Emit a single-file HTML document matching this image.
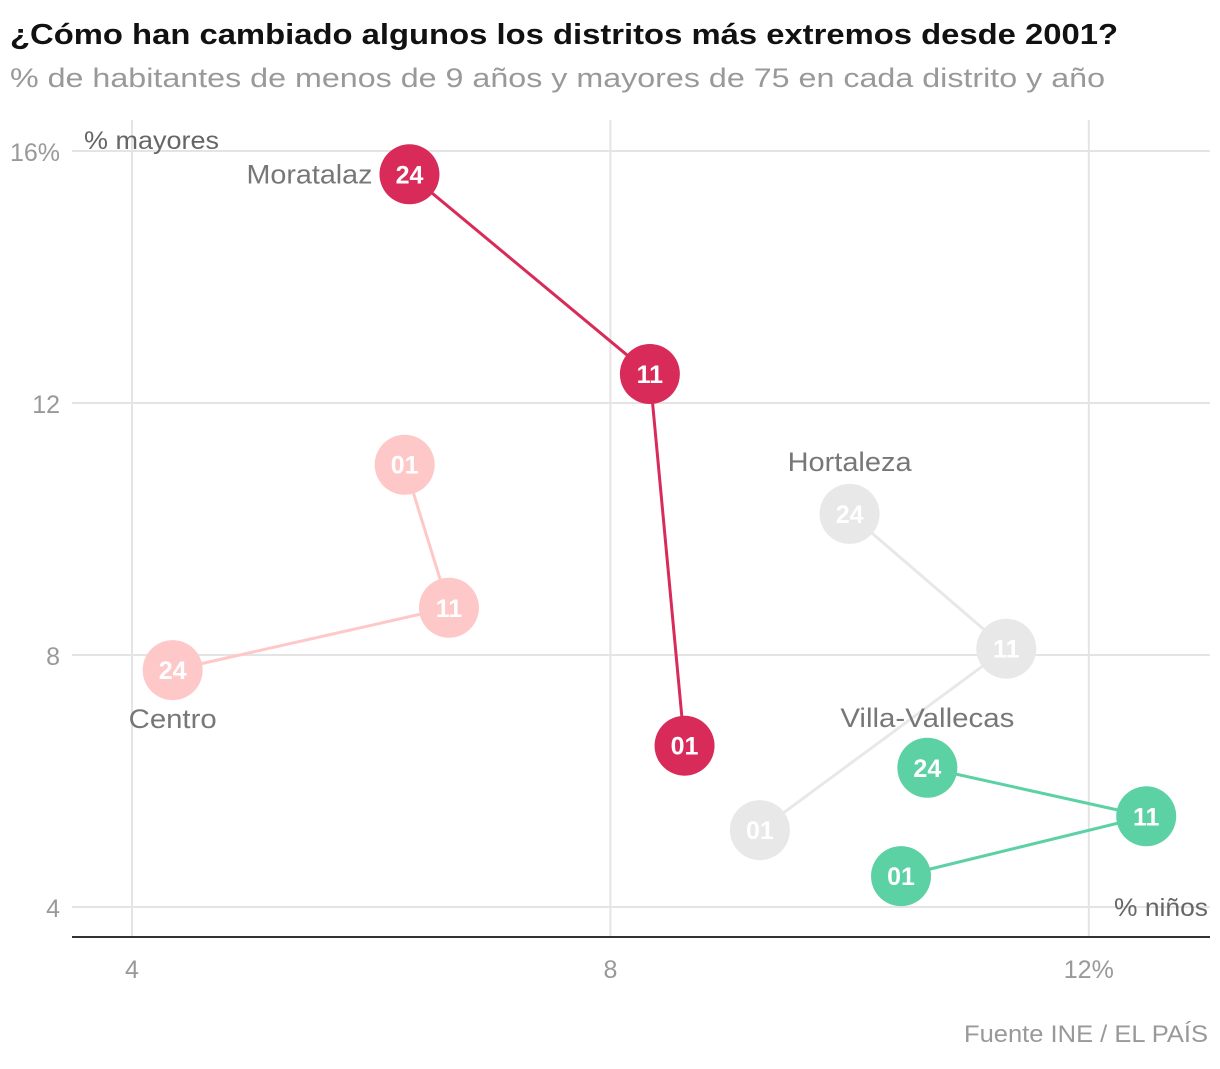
<!DOCTYPE html>
<html><head><meta charset="utf-8"><style>
body{margin:0;background:#fff;width:1220px;height:1064px;overflow:hidden;font-family:"Liberation Sans",sans-serif}
</style></head><body>
<svg id="chart" width="1220" height="1064">
<text x="10" y="44" font-size="29" font-weight="bold" fill="#111" textLength="1108" lengthAdjust="spacingAndGlyphs">¿Cómo han cambiado algunos los distritos más extremos desde 2001?</text>
<text x="10" y="87" font-size="27" fill="#999" textLength="1095" lengthAdjust="spacingAndGlyphs">% de habitantes de menos de 9 años y mayores de 75 en cada distrito y año</text>
<g id="grid"></g>
<g id="series"></g>
<text x="1208" y="1042" font-size="24" fill="#999" text-anchor="end" textLength="244" lengthAdjust="spacingAndGlyphs">Fuente INE / EL PAÍS</text>
</svg>
<script>
const xTicks=[4,8,12];
const yTicks=[4,8,12,16];
const districts=["Moratalaz","Centro","Hortaleza","Villa-Vallecas"];
const years=["01","11","24"];
const ninos=[[8.62,8.33,6.32],[6.28,6.65,4.34],[9.25,11.31,10.0],[10.43,12.48,10.65]];
const mayores=[[6.56,12.46,15.63],[11.02,8.75,7.76],[5.22,8.10,10.24],[4.49,5.44,6.21]];
const colors=["#d92b5a","#ffc8c8","#e8e8e8","#5bd1a4"];
const NS="http://www.w3.org/2000/svg";
const xs=v=>132+(v-4)*119.6, ys=v=>907-(v-4)*63;
function mk(t,a,p){const e=document.createElementNS(NS,t);for(const k in a)e.setAttribute(k,a[k]);p.appendChild(e);return e;}
const g=document.getElementById('grid'), s=document.getElementById('series');
xTicks.forEach((t,i)=>{
 const l=mk('line',{x1:xs(t),x2:xs(t),y1:120,y2:937,stroke:'#e4e4e4','stroke-width':2},g);
 
 
 const tx=mk('text',{x:xs(t),y:978,'font-size':25,fill:'#999','text-anchor':'middle'},g);
 tx.textContent=t+(i==xTicks.length-1?'%':'');
 
 
});
yTicks.forEach((t,i)=>{
 const l=mk('line',{x1:72,x2:1210,y1:ys(t),y2:ys(t),stroke:'#e4e4e4','stroke-width':2},g);
 
 
 const tx=mk('text',{x:60,y:ys(t)+10,'font-size':25,fill:'#999','text-anchor':'end'},g);
 tx.textContent=t+(i==yTicks.length-1?'%':'');
 
 
});
const ax=mk('line',{x1:72,x2:1210,y1:937,y2:937,stroke:'#333','stroke-width':2},g);


const yt=mk('text',{x:84,y:149,'font-size':25,fill:'#666',textLength:135,lengthAdjust:'spacingAndGlyphs'},g);yt.textContent='% mayores';


const xt=mk('text',{x:1208,y:916,'font-size':25,fill:'#666','text-anchor':'end',textLength:94,lengthAdjust:'spacingAndGlyphs'},g);xt.textContent='% niños';


const order=[2,1,3,0];
const labelPos=[[-37,9,'end',2,126],[0,58,'middle',2,88],[0,-43,'middle',2,124],[0,-41,'middle',2,174]];
order.forEach(d=>{
 const pts=ninos[d].map((v,i)=>xs(v)+','+ys(mayores[d][i])).join(' ');
 const pl=mk('polyline',{points:pts,fill:'none',stroke:colors[d],'stroke-width':3},s);
 
 
 years.forEach((y,i)=>{
  const cx=xs(ninos[d][i]), cy=ys(mayores[d][i]);
  const c=mk('circle',{cx:cx,cy:cy,r:30,fill:colors[d]},s);
  
  
  const t=mk('text',{x:cx,y:cy+9,'font-size':25,'font-weight':'bold',fill:'#fff','text-anchor':'middle'},s);
  t.textContent=y;
  
  
 });
 const lp=labelPos[d], i=lp[3];
 const t=mk('text',{x:xs(ninos[d][i])+lp[0],y:ys(mayores[d][i])+lp[1],'font-size':27,fill:'#777','text-anchor':lp[2],textLength:lp[4],lengthAdjust:'spacingAndGlyphs'},s);
 t.textContent=districts[d];
 
 
});
</script>
</body></html>
